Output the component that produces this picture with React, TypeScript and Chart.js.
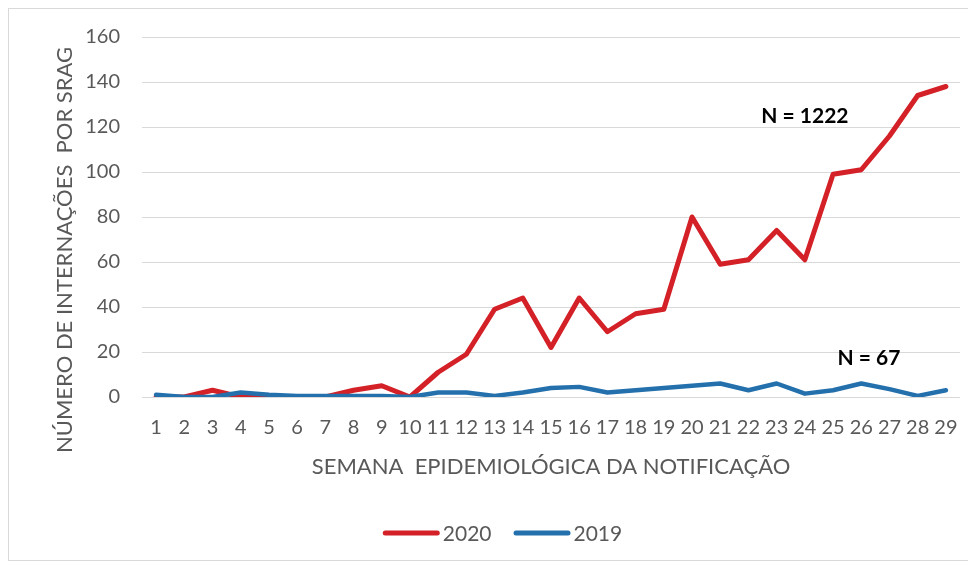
import React, { useEffect, useRef } from "react";
import { Chart, registerables } from "chart.js";

Chart.register(...registerables);

// ---- data ----
const weeks: string[] = [
  "1", "2", "3", "4", "5", "6", "7", "8", "9", "10",
  "11", "12", "13", "14", "15", "16", "17", "18", "19", "20",
  "21", "22", "23", "24", "25", "26", "27", "28", "29",
];
const cases2020: number[] = [
  0, 0, 3, 0, 0, 0, 0, 3, 5, 0,
  11, 19, 39, 44, 22, 44, 29, 37, 39, 80,
  59, 61, 74, 61, 99, 101, 116, 134, 138,
];
const cases2019: number[] = [
  1, 0, 0, 2, 1, 0.5, 0.5, 0.5, 0.5, 0,
  2, 2, 0.5, 2, 4, 4.5, 2, 3, 4, 5,
  6, 3, 6, 1.5, 3, 6, 3.5, 0.5, 3,
];
const seriesNames: string[] = ["2020", "2019"];
const yMin = 0;
const yMax = 160;
const yStep = 20;
const xTitle = "SEMANA  EPIDEMIOLÓGICA DA NOTIFICAÇÃO";
const yTitle = "NÚMERO DE INTERNAÇÕES  POR SRAG";
const noteTexts: string[] = ["N = 1222", "N = 67"];
const noteAnchorsX: number[] = [23, 25.27];
const noteAnchorsY: number[] = [125, 17.4];

// ---- styles ----
const RED = "#d42027";
const BLUE = "#2470ad";
const TEXT = "#595959";
const GRID = "#d9d9d9";
const FONT = "Lato, 'Open Sans', sans-serif";

const overlayPlugin = {
  id: "overlay",
  afterDraw(chart: any) {
    const { ctx } = chart;
    const xs = chart.scales.x;
    const ys = chart.scales.y;
    ctx.save();
    // annotations
    ctx.font = `bold 21px ${FONT}`;
    ctx.fillStyle = "#000000";
    ctx.textAlign = "center";
    ctx.textBaseline = "middle";
    noteTexts.forEach((t, i) => {
      ctx.fillText(t, xs.getPixelForValue(noteAnchorsX[i]), ys.getPixelForValue(noteAnchorsY[i]));
    });
    // y-axis title
    ctx.save();
    ctx.font = `22px ${FONT}`;
    ctx.fillStyle = TEXT;
    ctx.translate(55.5, 241);
    ctx.rotate(-Math.PI / 2);
    ctx.fillText(yTitle, 0, 0);
    ctx.restore();
    // legend
    ctx.font = `21px ${FONT}`;
    ctx.textAlign = "left";
    ctx.textBaseline = "middle";
    const lineW = 57;
    const gap = 3;
    const itemGap = 22;
    const widths = chart.data.datasets.map((d: any) => ctx.measureText(d.label).width);
    const total = widths.reduce((a: number, w: number) => a + lineW + gap + w, 0) + itemGap * (widths.length - 1);
    let cx = 493.5 - total / 2;
    const cy = 524;
    chart.data.datasets.forEach((d: any, i: number) => {
      ctx.strokeStyle = d.borderColor;
      ctx.lineWidth = 5;
      ctx.lineCap = "round";
      ctx.beginPath();
      ctx.moveTo(cx + 2.5, cy);
      ctx.lineTo(cx + lineW - 2.5, cy);
      ctx.stroke();
      ctx.fillStyle = TEXT;
      ctx.fillText(d.label, cx + lineW + gap, cy + 1);
      cx += lineW + gap + widths[i] + itemGap;
    });
    ctx.restore();
  },
};

export default function App() {
  const canvasRef = useRef<HTMLCanvasElement | null>(null);

  useEffect(() => {
    if (!canvasRef.current) return;
    const chart = new Chart(canvasRef.current, {
      type: "line",
      data: {
        labels: weeks,
        datasets: [
          {
            label: seriesNames[0],
            data: cases2020,
            borderColor: RED,
            backgroundColor: RED,
            borderWidth: 5,
            pointRadius: 0,
            tension: 0,
            borderJoinStyle: "round",
            borderCapStyle: "round",
            order: 1,
          },
          {
            label: seriesNames[1],
            data: cases2019,
            borderColor: BLUE,
            backgroundColor: BLUE,
            borderWidth: 4.5,
            pointRadius: 0,
            tension: 0,
            borderJoinStyle: "round",
            borderCapStyle: "round",
            order: 0,
          },
        ],
      },
      options: {
        responsive: false,
        animation: false,
        layout: { padding: { left: 0, right: 9, top: 28, bottom: 0 } },
        plugins: {
          legend: { display: false },
          tooltip: { enabled: false },
        },
        scales: {
          x: {
            offset: true,
            grid: { display: false, drawTicks: true, tickLength: 19, tickColor: "rgba(0,0,0,0)" },
            border: { display: false },
            ticks: {
              color: TEXT,
              font: { family: FONT, size: 20 },
              padding: 0,
              maxRotation: 0,
              autoSkip: false,
            },
            title: {
              display: true,
              text: xTitle,
              color: TEXT,
              font: { family: FONT, size: 22 },
              padding: { top: 0, bottom: 79.5 },
            },
            afterFit: (scale: any) => {
              scale.height = 163;
            },
          },
          y: {
            min: yMin,
            max: yMax,
            grid: { color: GRID, lineWidth: 1, drawTicks: true, tickLength: 22, tickColor: "rgba(0,0,0,0)" },
            border: { display: false },
            ticks: {
              stepSize: yStep,
              color: TEXT,
              font: { family: FONT, size: 20 },
              padding: 0,
            },
            afterFit: (scale: any) => {
              scale.width = 133;
            },
          },
        },
      },
      plugins: [overlayPlugin],
    });
    return () => chart.destroy();
  }, []);

  return (
    <div
      style={{
        width: 962,
        height: 553,
        border: "1px solid #d9d9d9",
        boxSizing: "border-box",
        background: "#ffffff",
      }}
    >
      <canvas ref={canvasRef} width={960} height={551} style={{ display: "block" }} />
    </div>
  );
}
